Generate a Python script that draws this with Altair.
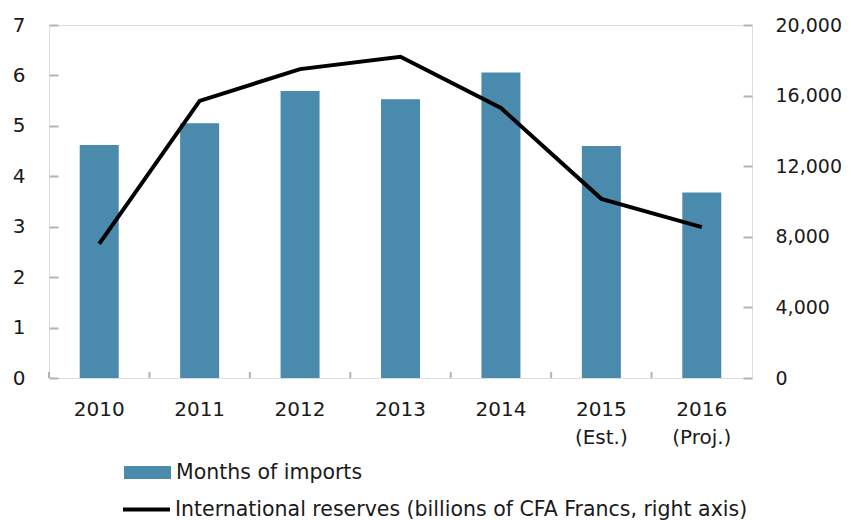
import altair as alt
import pandas as pd

years = ["2010", "2011", "2012", "2013", "2014", "2015 (Est.)", "2016 (Proj.)"]
months_of_imports = [4.62, 5.05, 5.69, 5.53, 6.06, 4.60, 3.68]
reserves = [7600, 15700, 17500, 18200, 15300, 10150, 8550]

left_ticks = [0, 1, 2, 3, 4, 5, 6, 7]
right_ticks = [0, 4000, 8000, 12000, 16000, 20000]

bar_label = "Months of imports"
line_label = "International reserves (billions of CFA Francs, right axis)"

df = pd.DataFrame({
    "year": years,
    "months": months_of_imports,
    "reserves": reserves,
    "s1": [bar_label] * len(years),
    "s2": [line_label] * len(years),
})

FONT = "DejaVu Sans"
GREY = "#b3b3b3"
TXT = "#1a1a1a"
BAR = "#4a8bad"
AX_FS = 20
LG_FS = 20.5

xscale = alt.Scale(paddingInner=0, paddingOuter=0)
xenc = alt.X(
    "year:N", sort=years, scale=xscale, title=None,
    axis=alt.Axis(
        labelAngle=0, ticks=False, domain=False, labelPadding=21,
        labelExpr="split(datum.label, ' ')", labelLineHeight=28,
        labelFont=FONT, labelFontSize=AX_FS, labelColor=TXT,
    ),
)

bars = alt.Chart(df).mark_bar(width=39).encode(
    x=xenc,
    y=alt.Y(
        "months:Q", scale=alt.Scale(domain=[0, 7], nice=False), title=None,
        axis=alt.Axis(
            values=left_ticks, orient="left", offset=-9, tickSize=9,
            domain=False, grid=False, labelPadding=24, tickColor=GREY,
            tickWidth=2, labelFont=FONT, labelFontSize=AX_FS, labelColor=TXT,
        ),
    ),
    fill=alt.Fill(
        "s1:N", scale=alt.Scale(domain=[bar_label], range=[BAR]), title=None,
        legend=alt.Legend(
            orient="none", legendX=75, legendY=424, symbolType="M-1,-0.28H1V0.28H-1Z",
            symbolSize=2209, symbolStrokeWidth=0, labelOffset=5, labelLimit=800,
            labelFont=FONT, labelFontSize=LG_FS, labelColor=TXT,
        ),
    ),
)

xticks = alt.Chart(df).mark_rule(color=GREY, strokeWidth=2).encode(
    x=alt.X("year:N", sort=years, bandPosition=0),
    y=alt.value(353),
    y2=alt.value(347),
)

line = alt.Chart(df).mark_line(strokeWidth=4).encode(
    x=alt.X("year:N", sort=years),
    y=alt.Y(
        "reserves:Q", scale=alt.Scale(domain=[0, 20000], nice=False), title=None,
        axis=alt.Axis(
            values=right_ticks, format=",.0f", orient="right", offset=-9, tickSize=9,
            domain=False, grid=False, labelPadding=23, tickColor=GREY,
            tickWidth=2, labelFont=FONT, labelFontSize=19, labelColor=TXT,
        ),
    ),
    stroke=alt.Stroke(
        "s2:N", scale=alt.Scale(domain=[line_label], range=["#000000"]), title=None,
        legend=alt.Legend(
            orient="none", legendX=72, legendY=459, symbolType="stroke",
            symbolSize=2209, symbolStrokeWidth=4, labelOffset=3, labelLimit=800,
            labelFont=FONT, labelFontSize=LG_FS, labelColor=TXT,
        ),
    ),
)

chart = (
    alt.layer(bars, xticks, line)
    .resolve_scale(y="independent", fill="independent", stroke="independent")
    .properties(
        width=703, height=353,
        autosize=alt.AutoSizeParams(type="none"),
        padding={"left": 41, "top": 17, "right": 91, "bottom": 142},
    )
    .configure_view(stroke=GREY, strokeWidth=2)
    .configure(font=FONT)
)

chart.save("out.html", embed_options={"renderer": "svg", "actions": False})
